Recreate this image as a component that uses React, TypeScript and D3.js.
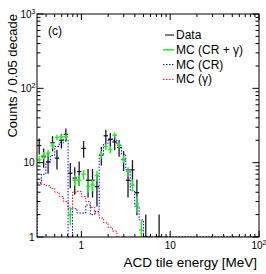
import React from 'react';
import * as d3 from 'd3';

const W = 266;
const H = 274;

// histogram binning: 0.05 decade bins starting at 10^-0.5 MeV
const binLogMin = -0.5;
const binWidth = 0.05;
const nBins = 50;

// values per bin (bins beyond the list are empty)
const dataCounts = [17, 12, 10.3, 18.5, 11.5, 20, 24, 7.2, 6.2, 7.6, 15.6, 5.8, 5.8, 4.75, 12.7, 23, 20.5, 19, 16, 11, 5.8, 8.0, 3.95, 0, 1, 0, 0, 1];
const mcTotal = [10.9, 12.5, 13.5, 17, 21.8, 22.3, 22.3, 2.0, 5.8, 5.8, 7.0, 4.8, 5.0, 6.7, 12.9, 16.4, 15, 23.5, 17.3, 11.2, 7.6, 5.0, 2.8, 1.24];
const mcCR = [5.3, 7.0, 10.0, 12.5, 16.5, 18.5, 20.5, 0, 2.4, 2.1, 2.1, 2.7, 2.0, 2.2, 12.5, 18, 21, 20, 17, 13, 8, 4.2, 2.6, 1.7];
const mcGamma = [5.4, 5.1, 4.9, 4.5, 4.0, 3.5, 3.0, 2.4, 4.0, 4.1, 3.5, 3.0, 2.5, 2.1, 1.8, 1.55, 1.35, 1.2];

const legendLabels = ['Data', 'MC (CR + \u03b3)', 'MC (CR)', 'MC (\u03b3)'];
const legendColors = ['#000000', '#22ee22', '#0000ff', '#ff0000'];
const legendDash = [null, null, '1.5,1.5', '1.5,1.5'];

const font = '"Liberation Sans", Arial, Helvetica, sans-serif';

const x = d3.scaleLog().domain([10 ** binLogMin, 100]).range([37, 259]);
const y = d3.scaleLog().domain([1, 1000]).range([237, 14]);

const edge = (i: number) => 10 ** (binLogMin + binWidth * i);
const yv = (v: number) => y(Math.max(v, 1));
const isMajor = (t: number) => Math.abs(Math.log10(t) - Math.round(Math.log10(t))) < 1e-6;

const histPath = (vals: number[]) => {
  let p = `M${x(edge(0))},${y(1)}`;
  for (let i = 0; i < nBins; i++) {
    const v = vals[i] ?? 0;
    p += `L${x(edge(i))},${yv(v)}L${x(edge(i + 1))},${yv(v)}`;
  }
  return p + `L${x(edge(nBins))},${y(1)}`;
};

const Points = ({ vals, err, color, width }: { vals: number[]; err: (v: number) => number; color: string; width: number }) => (
  <g stroke={color} strokeWidth={width}>
    {vals.map((v, i) => {
      if (v <= 0) return null;
      const xc = x(10 ** (binLogMin + binWidth * (i + 0.5)));
      const e = err(v);
      return (
        <g key={i}>
          <line x1={xc} x2={xc} y1={yv(v - e)} y2={yv(v + e)} />
          <line x1={x(edge(i))} x2={x(edge(i + 1))} y1={yv(v)} y2={yv(v)} />
        </g>
      );
    })}
  </g>
);

const Sup = ({ base, exp, ...rest }: any) => (
  <text {...rest}>
    {base}
    {exp ? <tspan fontSize={7} dy={-4}>{exp}</tspan> : null}
  </text>
);

export default function App() {
  const [x0, x1] = x.range();
  const [y0, y1] = y.range();
  const xt = x.ticks();
  const yt = y.ticks();

  return (
    <svg width={W} height={H} style={{ position: 'absolute', left: 0, top: 0 }} fontFamily={font}>
      <rect width={W} height={H} fill="#fff" />
      <defs>
        <clipPath id="plot">
          <rect x={x0} y={y1} width={x1 - x0} height={y0 - y1} />
        </clipPath>
      </defs>

      <g clipPath="url(#plot)">
        <Points vals={dataCounts} err={(v) => Math.sqrt(v)} color="#1a1a1a" width={1.3} />
        <path d={histPath(mcGamma)} fill="none" stroke="#ff0000" strokeWidth={1} strokeDasharray="1.5,1.5" />
        <path d={histPath(mcCR)} fill="none" stroke="#0000ff" strokeWidth={1} strokeDasharray="1.5,1.5" />
        <Points vals={mcTotal} err={(v) => 0.4 * Math.sqrt(v)} color="#22ee22" width={1.5} />
      </g>

      {/* frame */}
      <rect x={x0} y={y1} width={x1 - x0} height={y0 - y1} fill="none" stroke="#000" strokeWidth={1} />

      {/* ticks on all four sides */}
      <g stroke="#000" strokeWidth={1}>
        {xt.map((t, i) => {
          const len = isMajor(t) ? 6 : 3;
          return (
            <g key={i}>
              <line x1={x(t)} x2={x(t)} y1={y0} y2={y0 - len} />
              <line x1={x(t)} x2={x(t)} y1={y1} y2={y1 + len} />
            </g>
          );
        })}
        {yt.map((t, i) => {
          const len = isMajor(t) ? 6.5 : 3.5;
          return (
            <g key={i}>
              <line x1={x0} x2={x0 + len} y1={y(t)} y2={y(t)} />
              <line x1={x1} x2={x1 - len} y1={y(t)} y2={y(t)} />
            </g>
          );
        })}
      </g>

      {/* tick labels */}
      <g fontSize={10} fill="#000">
        {xt.filter(isMajor).map((t, i) => {
          const e = Math.round(Math.log10(t));
          return (
            <Sup key={i} x={x(t)} y={y0 + 12} textAnchor="middle" base={e === 0 ? '1' : '10'} exp={e > 1 ? String(e) : ''} />
          );
        })}
        {yt.filter(isMajor).map((t, i) => {
          const e = Math.round(Math.log10(t));
          return (
            <Sup key={i} x={e > 1 ? 35.5 : 34.5} y={y(t) + 3.5} textAnchor="end" base={e === 0 ? '1' : '10'} exp={e > 1 ? String(e) : ''} />
          );
        })}
      </g>

      {/* axis titles */}
      <text x={257} y={267} textAnchor="end" fontSize={13.5}>ACD tile energy [MeV]</text>
      <text transform={`translate(17,14) rotate(-90)`} textAnchor="end" fontSize={13}>Counts / 0.05 decade</text>

      <text x={48} y={35} fontSize={12}>(c)</text>

      {/* legend */}
      <g fontSize={12}>
        {legendLabels.map((l, i) => {
          const cy = 35 + 14.8 * i;
          return (
            <g key={i}>
              <line x1={i === 0 ? 165 : 163} x2={174} y1={cy} y2={cy} stroke={legendColors[i]} strokeWidth={i === 1 ? 1.5 : 1} strokeDasharray={legendDash[i] ?? undefined} />
              <text x={176} y={cy + 4}>{l}</text>
            </g>
          );
        })}
      </g>
    </svg>
  );
}
